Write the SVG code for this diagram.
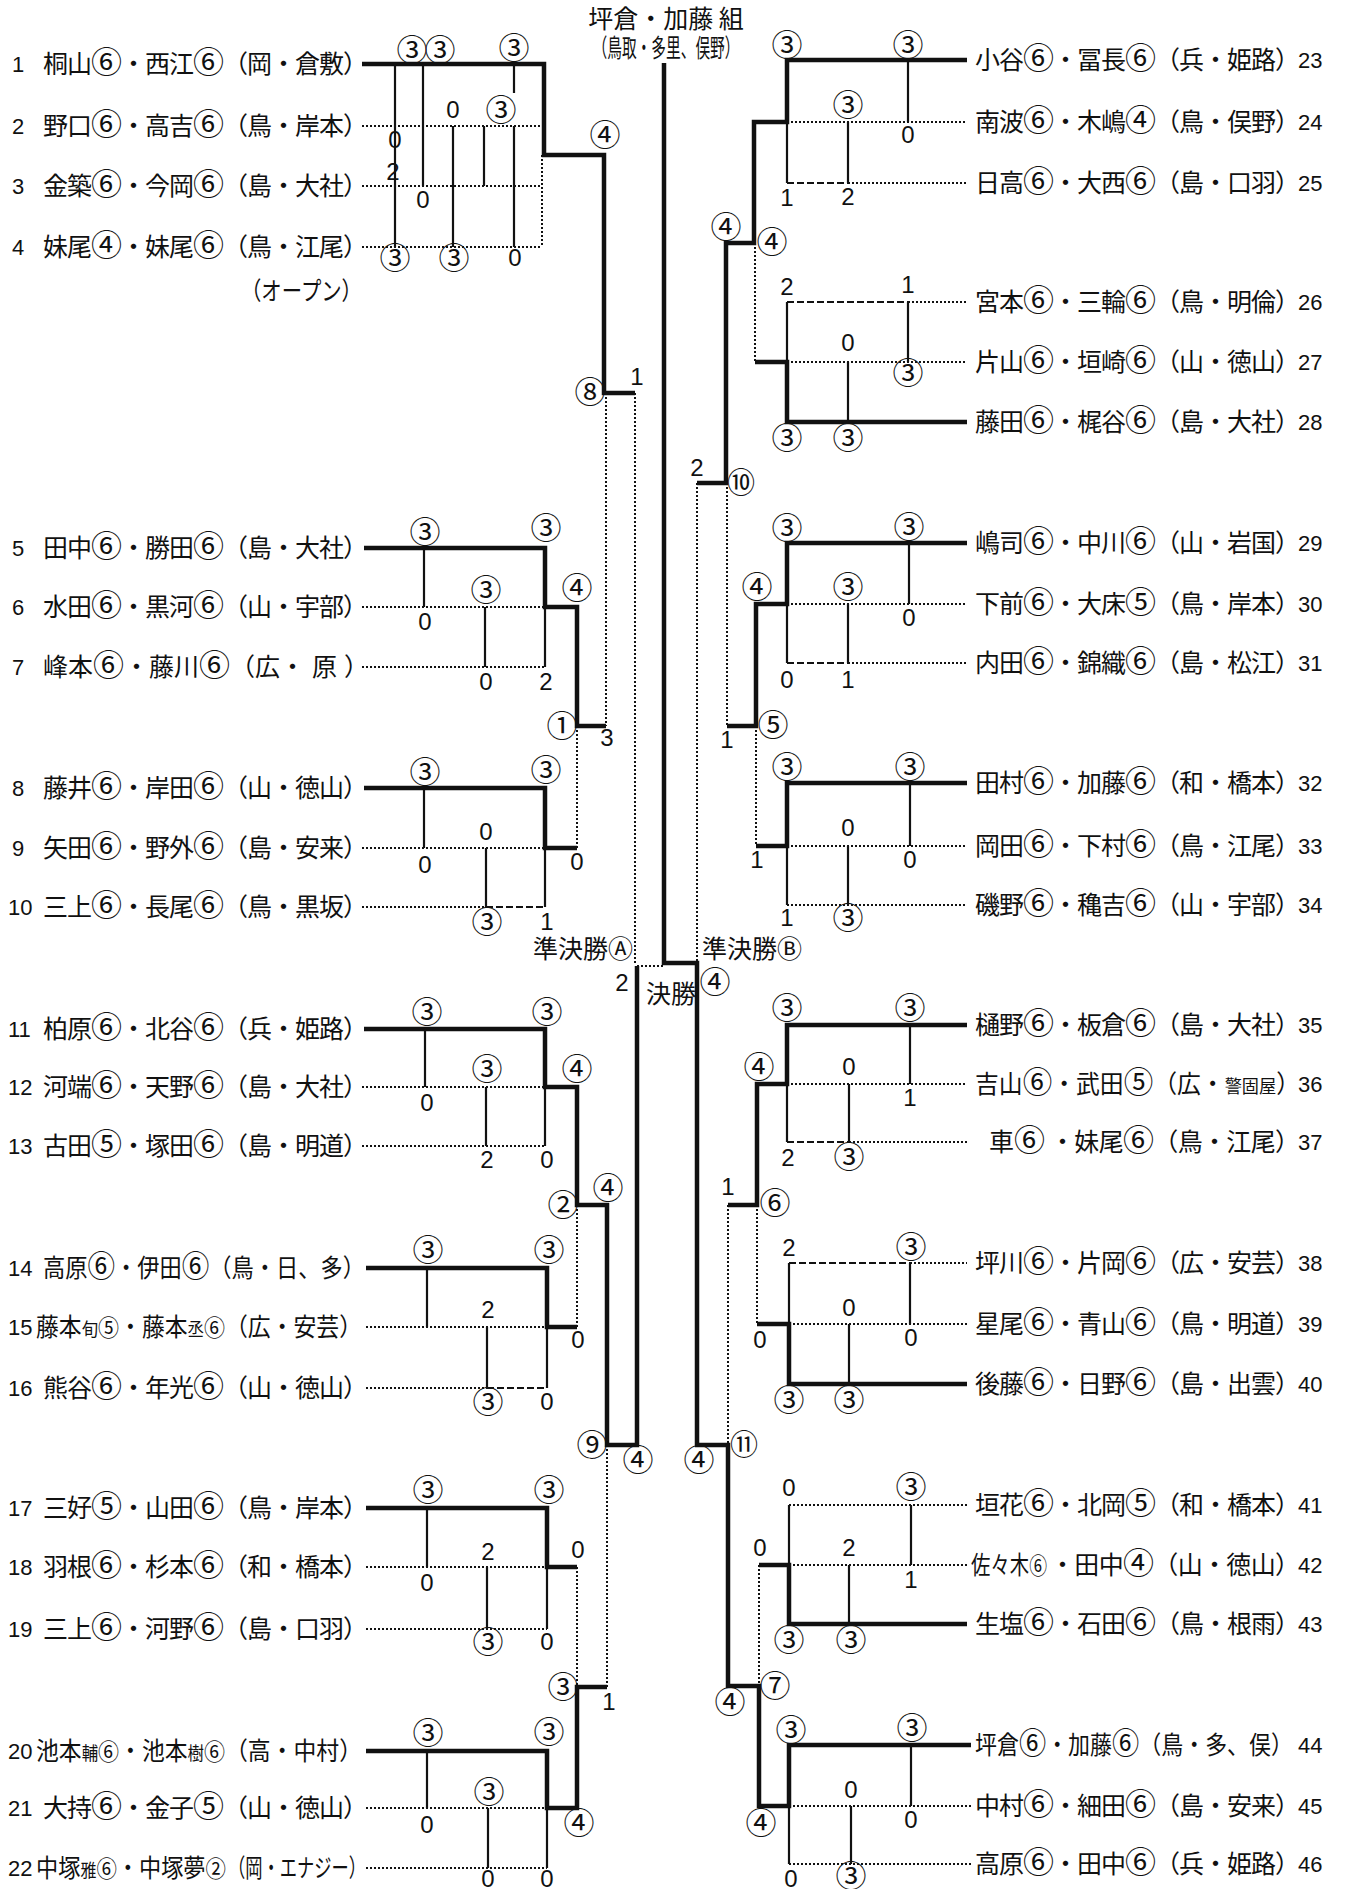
<svg xmlns="http://www.w3.org/2000/svg" width="1347" height="1889" viewBox="0 0 1347 1889">
<style>
.t{stroke:#111;stroke-width:4.5;fill:none;stroke-linejoin:miter}
.m{stroke:#111;stroke-width:2.2;fill:none}
.d{stroke:#111;stroke-width:2;fill:none;stroke-dasharray:2 2}
.ds{stroke:#111;stroke-width:2;fill:none;stroke-dasharray:7 3}
.nm{font-family:"Noto Sans CJK JP",sans-serif;font-size:25px;fill:#111}
.k{font-size:31px}
.ks{font-size:23px}
.sm{font-size:18px}
.no{font-family:"Liberation Sans",sans-serif;font-size:22px;fill:#111}
.s{font-family:"Liberation Sans",sans-serif;font-size:24px;fill:#111;text-anchor:middle}
.c{font-family:"Noto Sans CJK JP",sans-serif;font-size:31px;fill:#111;text-anchor:middle}
.c2{font-family:"Noto Sans CJK JP",sans-serif;font-size:28px;fill:#111;text-anchor:middle}
</style>
<rect width="1347" height="1889" fill="#fff"/>
<g id="title">
<text class="nm" x="666" y="28" font-size="23" text-anchor="middle">坪倉・加藤 組</text>
<text class="nm" x="666" y="57" font-size="15" text-anchor="middle" textLength="147" lengthAdjust="spacingAndGlyphs">（鳥取・多里、俣野）</text>
</g>
<g id="connectors">
<path class="t" d="M362,64H544V155H604V393H635"/>
<path class="t" d="M364,548H545V607H577V726H606"/>
<path class="t" d="M364,788H545V848H577"/>
<path class="t" d="M364,1029H545V1087H577V1205H607V1445H637V966"/>
<path class="t" d="M366,1268H547V1327H577"/>
<path class="t" d="M366,1508H547V1567H577"/>
<path class="t" d="M366,1751H547V1808H577V1687H607"/>
<path class="t" d="M967,60H787V122H754V243H726V483H697"/>
<path class="t" d="M967,422H787V362H755"/>
<path class="t" d="M967,543H787V604H756V726H727"/>
<path class="t" d="M967,783H787V846H756"/>
<path class="t" d="M967,1025H787V1084H757V1205H728"/>
<path class="t" d="M967,1384H789V1324H757"/>
<path class="t" d="M967,1624H789V1565H759"/>
<path class="t" d="M971,1745H789V1806H759V1686H728V1445H697V963H664V63"/>
<path class="m" stroke-width="3" d="M395,64V247"/>
<path class="m" d="M423,64V186M453,126V247M484,126V186M514,64V93M514,126V247"/>
<path class="m" d="M424,548V607M485,607V667M545,607V667M424,788V848M486,848V907M545,848V907M425,1029V1087M486,1087V1146M545,1087V1146M427,1268V1327M487,1327V1388M547,1327V1388M427,1508V1567M487,1567V1629M547,1567V1629M427,1751V1808M488,1808V1868M547,1808V1868"/>
<path class="m" d="M787,122V183M908,60V122M848,122V183M787,302V362M908,302V362M848,362V422M787,604V663M909,543V604M848,604V663M787,846V905M910,783V846M848,846V905M787,1084V1142M910,1025V1084M849,1084V1142M789,1263V1324M910,1263V1324M849,1324V1384M789,1505V1565M911,1505V1565M849,1565V1624M789,1806V1864M911,1745V1806M851,1806V1864"/>
<path class="d" d="M362,126H542M362,186H542M362,247H542M542,155V247M362,607H545M362,667H545M362,848H545M362,907H486M362,1087H545M362,1146H545M366,1327H547M366,1388H487M366,1567H547M366,1629H547M366,1808H547M366,1868H547"/>
<path class="ds" d="M486,907H545M487,1388H547"/>
<path class="d" d="M606,393V726M635,393V963M577,726V848M577,1205V1327M607,1445V1687M577,1567V1687M637,966H664"/>
<path class="d" d="M787,122H967M848,183H967M908,302H967M787,362H967M787,604H967M848,663H967M787,846H967M787,905H967M787,1084H967M849,1142H967M910,1263H967M789,1324H967M789,1505H967M789,1565H967M789,1806H971M789,1864H971"/>
<path class="ds" d="M787,183H848M787,302H908M787,663H848M787,1142H849M789,1263H910"/>
<path class="d" d="M755,243V362M727,483V726M756,726V846M697,483V963M728,1205V1445M757,1205V1324M759,1565V1686"/>
</g>
<g id="scores">
<text class="c" x="412" y="61">③</text><text class="c" x="440" y="61">③</text><text class="c" x="514" y="59">③</text>
<text class="s" x="453" y="118">0</text><text class="c" x="501" y="121">③</text>
<text class="s" x="395" y="148">0</text><text class="s" x="393" y="180">2</text><text class="s" x="423" y="208">0</text>
<text class="c" x="395" y="269">③</text><text class="c" x="454" y="269">③</text><text class="s" x="515" y="266">0</text>
<text class="c" x="605" y="146">④</text><text class="c" x="590" y="403">⑧</text><text class="s" x="637" y="385">1</text>
<text class="c" x="562" y="737">①</text><text class="s" x="607" y="746">3</text>
<text class="c" x="577" y="599">④</text><text class="s" x="577" y="870">0</text>
<text class="c" x="425" y="543">③</text><text class="s" x="425" y="630">0</text><text class="c" x="486" y="601">③</text><text class="s" x="486" y="690">0</text><text class="c" x="546" y="539">③</text><text class="s" x="546" y="690">2</text>
<text class="c" x="425" y="783">③</text><text class="s" x="425" y="873">0</text><text class="s" x="486" y="840">0</text><text class="c" x="487" y="933">③</text><text class="c" x="546" y="781">③</text><text class="s" x="547" y="930">1</text>
<text class="c" x="427" y="1023">③</text><text class="s" x="427" y="1111">0</text><text class="c" x="487" y="1080">③</text><text class="s" x="487" y="1168">2</text><text class="c" x="547" y="1023">③</text><text class="s" x="547" y="1168">0</text><text class="c" x="577" y="1080">④</text>
<text class="c" x="563" y="1216">②</text><text class="c" x="608" y="1199">④</text>
<text class="c" x="428" y="1261">③</text><text class="c" x="549" y="1261">③</text><text class="s" x="488" y="1318">2</text><text class="c" x="488" y="1413">③</text><text class="s" x="547" y="1410">0</text><text class="s" x="578" y="1348">0</text>
<text class="c" x="592" y="1456">⑨</text><text class="c" x="638" y="1471">④</text>
<text class="c" x="428" y="1501">③</text><text class="c" x="549" y="1501">③</text><text class="s" x="488" y="1560">2</text><text class="s" x="427" y="1591">0</text><text class="c" x="488" y="1653">③</text><text class="s" x="547" y="1650">0</text><text class="s" x="578" y="1558">0</text>
<text class="c" x="563" y="1698">③</text><text class="s" x="609" y="1710">1</text>
<text class="c" x="428" y="1744">③</text><text class="c" x="549" y="1743">③</text><text class="c" x="489" y="1803">③</text><text class="s" x="427" y="1833">0</text><text class="s" x="488" y="1887">0</text><text class="s" x="547" y="1887">0</text><text class="c" x="579" y="1834">④</text>
<text class="s" x="622" y="991">2</text><text class="c" x="715" y="993">④</text>
<text class="c" x="787" y="56">③</text><text class="c" x="908" y="56">③</text><text class="c" x="848" y="116">③</text><text class="s" x="908" y="143">0</text><text class="s" x="787" y="206">1</text><text class="s" x="848" y="205">2</text>
<text class="c" x="726" y="238">④</text><text class="c" x="772" y="253">④</text>
<text class="s" x="787" y="295">2</text><text class="s" x="908" y="293">1</text><text class="c" x="908" y="384">③</text><text class="s" x="848" y="351">0</text><text class="c" x="787" y="449">③</text><text class="c" x="848" y="449">③</text>
<text class="s" x="697" y="476">2</text><text class="c2" x="741" y="493">⑩</text>
<text class="c" x="787" y="539">③</text><text class="c" x="909" y="538">③</text><text class="s" x="909" y="626">0</text><text class="c" x="848" y="598">③</text><text class="s" x="787" y="688">0</text><text class="s" x="848" y="688">1</text><text class="c" x="757" y="598">④</text>
<text class="c" x="773" y="736">⑤</text><text class="s" x="727" y="748">1</text>
<text class="c" x="787" y="778">③</text><text class="c" x="910" y="778">③</text><text class="s" x="910" y="868">0</text><text class="s" x="848" y="836">0</text><text class="s" x="787" y="926">1</text><text class="c" x="848" y="929">③</text><text class="s" x="757" y="868">1</text>
<text class="c" x="787" y="1019">③</text><text class="c" x="910" y="1019">③</text><text class="s" x="910" y="1106">1</text><text class="s" x="849" y="1075">0</text><text class="s" x="788" y="1166">2</text><text class="c" x="849" y="1168">③</text><text class="c" x="759" y="1078">④</text>
<text class="s" x="728" y="1195">1</text><text class="c" x="775" y="1214">⑥</text>
<text class="s" x="789" y="1256">2</text><text class="c" x="911" y="1258">③</text><text class="s" x="911" y="1346">0</text><text class="s" x="849" y="1316">0</text><text class="c" x="789" y="1411">③</text><text class="c" x="849" y="1411">③</text><text class="s" x="760" y="1348">0</text>
<text class="c" x="699" y="1471">④</text><text class="c2" x="744" y="1455">⑪</text>
<text class="s" x="789" y="1496">0</text><text class="c" x="911" y="1498">③</text><text class="s" x="911" y="1588">1</text><text class="s" x="849" y="1556">2</text><text class="c" x="789" y="1651">③</text><text class="c" x="851" y="1651">③</text><text class="s" x="760" y="1556">0</text>
<text class="c" x="730" y="1713">④</text><text class="c" x="775" y="1697">⑦</text>
<text class="c" x="791" y="1741">③</text><text class="c" x="912" y="1739">③</text><text class="s" x="911" y="1828">0</text><text class="s" x="851" y="1798">0</text><text class="s" x="791" y="1887">0</text><text class="c" x="851" y="1887">③</text><text class="c" x="761" y="1834">④</text>
</g>
<g id="round-labels">
<text class="nm" x="633" y="958" font-size="15.5" text-anchor="end">準決勝Ⓐ</text>
<text class="nm" x="702" y="958" font-size="15.5">準決勝Ⓑ</text>
<text class="nm" x="646" y="1003" font-size="22">決勝</text>
</g>
<g id="team-1"><text class="no" x="18" y="72" text-anchor="middle">1</text><text class="nm" x="43" y="73" textLength="325" lengthAdjust="spacing">桐山<tspan class="k">⑥</tspan>・西江<tspan class="k">⑥</tspan>（岡・倉敷）</text></g>
<g id="team-2"><text class="no" x="18" y="134" text-anchor="middle">2</text><text class="nm" x="43" y="135" textLength="325" lengthAdjust="spacing">野口<tspan class="k">⑥</tspan>・高吉<tspan class="k">⑥</tspan>（鳥・岸本）</text></g>
<g id="team-3"><text class="no" x="18" y="194" text-anchor="middle">3</text><text class="nm" x="43" y="195" textLength="325" lengthAdjust="spacing">金築<tspan class="k">⑥</tspan>・今岡<tspan class="k">⑥</tspan>（島・大社）</text></g>
<g id="team-4"><text class="no" x="18" y="255" text-anchor="middle">4</text><text class="nm" x="43" y="256" textLength="325" lengthAdjust="spacing">妹尾<tspan class="k">④</tspan>・妹尾<tspan class="k">⑥</tspan>（鳥・江尾）</text></g>
<g id="open"><text class="nm" x="241" y="300" font-size="22" textLength="121" lengthAdjust="spacingAndGlyphs">（オープン）</text></g>
<g id="team-5"><text class="no" x="18" y="556" text-anchor="middle">5</text><text class="nm" x="43" y="557" textLength="325" lengthAdjust="spacing">田中<tspan class="k">⑥</tspan>・勝田<tspan class="k">⑥</tspan>（島・大社）</text></g>
<g id="team-6"><text class="no" x="18" y="615" text-anchor="middle">6</text><text class="nm" x="43" y="616" textLength="325" lengthAdjust="spacing">水田<tspan class="k">⑥</tspan>・黒河<tspan class="k">⑥</tspan>（山・宇部）</text></g>
<g id="team-7"><text class="no" x="18" y="675" text-anchor="middle">7</text><text class="nm" x="43" y="676">峰本<tspan class="k">⑥</tspan>・藤川<tspan class="k">⑥</tspan>（広・<tspan dx="7">原</tspan><tspan dx="7">）</tspan></text></g>
<g id="team-8"><text class="no" x="18" y="796" text-anchor="middle">8</text><text class="nm" x="43" y="797" textLength="325" lengthAdjust="spacing">藤井<tspan class="k">⑥</tspan>・岸田<tspan class="k">⑥</tspan>（山・徳山）</text></g>
<g id="team-9"><text class="no" x="18" y="856" text-anchor="middle">9</text><text class="nm" x="43" y="857" textLength="325" lengthAdjust="spacing">矢田<tspan class="k">⑥</tspan>・野外<tspan class="k">⑥</tspan>（島・安来）</text></g>
<g id="team-10"><text class="no" x="8" y="915">10</text><text class="nm" x="43" y="916" textLength="325" lengthAdjust="spacing">三上<tspan class="k">⑥</tspan>・長尾<tspan class="k">⑥</tspan>（鳥・黒坂）</text></g>
<g id="team-11"><text class="no" x="8" y="1037">11</text><text class="nm" x="43" y="1038" textLength="325" lengthAdjust="spacing">柏原<tspan class="k">⑥</tspan>・北谷<tspan class="k">⑥</tspan>（兵・姫路）</text></g>
<g id="team-12"><text class="no" x="8" y="1095">12</text><text class="nm" x="43" y="1096" textLength="325" lengthAdjust="spacing">河端<tspan class="k">⑥</tspan>・天野<tspan class="k">⑥</tspan>（島・大社）</text></g>
<g id="team-13"><text class="no" x="8" y="1154">13</text><text class="nm" x="43" y="1155" textLength="325" lengthAdjust="spacing">古田<tspan class="k">⑤</tspan>・塚田<tspan class="k">⑥</tspan>（島・明道）</text></g>
<g id="team-14"><text class="no" x="8" y="1276">14</text><text class="nm" x="43" y="1277" textLength="322" lengthAdjust="spacingAndGlyphs">高原<tspan class="k">⑥</tspan>・伊田<tspan class="k">⑥</tspan>（鳥・日、多）</text></g>
<g id="team-15"><text class="no" x="8" y="1335">15</text><text class="nm" x="36" y="1336" textLength="326" lengthAdjust="spacingAndGlyphs">藤本<tspan class="sm">旬</tspan><tspan class="ks">⑤</tspan>・藤本<tspan class="sm">丞</tspan><tspan class="ks">⑥</tspan>（広・安芸）</text></g>
<g id="team-16"><text class="no" x="8" y="1396">16</text><text class="nm" x="43" y="1397" textLength="325" lengthAdjust="spacing">熊谷<tspan class="k">⑥</tspan>・年光<tspan class="k">⑥</tspan>（山・徳山）</text></g>
<g id="team-17"><text class="no" x="8" y="1516">17</text><text class="nm" x="43" y="1517" textLength="325" lengthAdjust="spacing">三好<tspan class="k">⑤</tspan>・山田<tspan class="k">⑥</tspan>（鳥・岸本）</text></g>
<g id="team-18"><text class="no" x="8" y="1575">18</text><text class="nm" x="43" y="1576" textLength="325" lengthAdjust="spacing">羽根<tspan class="k">⑥</tspan>・杉本<tspan class="k">⑥</tspan>（和・橋本）</text></g>
<g id="team-19"><text class="no" x="8" y="1637">19</text><text class="nm" x="43" y="1638" textLength="325" lengthAdjust="spacing">三上<tspan class="k">⑥</tspan>・河野<tspan class="k">⑥</tspan>（島・口羽）</text></g>
<g id="team-20"><text class="no" x="8" y="1759">20</text><text class="nm" x="36" y="1760" textLength="326" lengthAdjust="spacingAndGlyphs">池本<tspan class="sm">輔</tspan><tspan class="ks">⑥</tspan>・池本<tspan class="sm">樹</tspan><tspan class="ks">⑥</tspan>（高・中村）</text></g>
<g id="team-21"><text class="no" x="8" y="1816">21</text><text class="nm" x="43" y="1817" textLength="325" lengthAdjust="spacing">大持<tspan class="k">⑥</tspan>・金子<tspan class="k">⑤</tspan>（山・徳山）</text></g>
<g id="team-22"><text class="no" x="8" y="1876">22</text><text class="nm" x="36" y="1877" textLength="190" lengthAdjust="spacingAndGlyphs">中塚<tspan class="sm">雅</tspan><tspan class="ks">⑥</tspan>・中塚夢<tspan class="ks">②</tspan></text><text class="nm" x="228" y="1877" textLength="138" lengthAdjust="spacingAndGlyphs">（岡・エナジー）</text></g>
<g id="team-23"><text class="nm" x="975" y="69" textLength="325" lengthAdjust="spacing">小谷<tspan class="k">⑥</tspan>・冨長<tspan class="k">⑥</tspan>（兵・姫路）</text><text class="no" x="1298" y="68">23</text></g>
<g id="team-24"><text class="nm" x="975" y="131" textLength="325" lengthAdjust="spacing">南波<tspan class="k">⑥</tspan>・木嶋<tspan class="k">④</tspan>（鳥・俣野）</text><text class="no" x="1298" y="130">24</text></g>
<g id="team-25"><text class="nm" x="975" y="192" textLength="325" lengthAdjust="spacing">日高<tspan class="k">⑥</tspan>・大西<tspan class="k">⑥</tspan>（島・口羽）</text><text class="no" x="1298" y="191">25</text></g>
<g id="team-26"><text class="nm" x="975" y="311" textLength="325" lengthAdjust="spacing">宮本<tspan class="k">⑥</tspan>・三輪<tspan class="k">⑥</tspan>（鳥・明倫）</text><text class="no" x="1298" y="310">26</text></g>
<g id="team-27"><text class="nm" x="975" y="371" textLength="325" lengthAdjust="spacing">片山<tspan class="k">⑥</tspan>・垣崎<tspan class="k">⑥</tspan>（山・徳山）</text><text class="no" x="1298" y="370">27</text></g>
<g id="team-28"><text class="nm" x="975" y="431" textLength="325" lengthAdjust="spacing">藤田<tspan class="k">⑥</tspan>・梶谷<tspan class="k">⑥</tspan>（島・大社）</text><text class="no" x="1298" y="430">28</text></g>
<g id="team-29"><text class="nm" x="975" y="552" textLength="325" lengthAdjust="spacing">嶋司<tspan class="k">⑥</tspan>・中川<tspan class="k">⑥</tspan>（山・岩国）</text><text class="no" x="1298" y="551">29</text></g>
<g id="team-30"><text class="nm" x="975" y="613" textLength="325" lengthAdjust="spacing">下前<tspan class="k">⑥</tspan>・大床<tspan class="k">⑤</tspan>（鳥・岸本）</text><text class="no" x="1298" y="612">30</text></g>
<g id="team-31"><text class="nm" x="975" y="672" textLength="325" lengthAdjust="spacing">内田<tspan class="k">⑥</tspan>・錦織<tspan class="k">⑥</tspan>（島・松江）</text><text class="no" x="1298" y="671">31</text></g>
<g id="team-32"><text class="nm" x="975" y="792" textLength="325" lengthAdjust="spacing">田村<tspan class="k">⑥</tspan>・加藤<tspan class="k">⑥</tspan>（和・橋本）</text><text class="no" x="1298" y="791">32</text></g>
<g id="team-33"><text class="nm" x="975" y="855" textLength="325" lengthAdjust="spacing">岡田<tspan class="k">⑥</tspan>・下村<tspan class="k">⑥</tspan>（鳥・江尾）</text><text class="no" x="1298" y="854">33</text></g>
<g id="team-34"><text class="nm" x="975" y="914" textLength="325" lengthAdjust="spacing">磯野<tspan class="k">⑥</tspan>・穐吉<tspan class="k">⑥</tspan>（山・宇部）</text><text class="no" x="1298" y="913">34</text></g>
<g id="team-35"><text class="nm" x="975" y="1034" textLength="325" lengthAdjust="spacing">樋野<tspan class="k">⑥</tspan>・板倉<tspan class="k">⑥</tspan>（島・大社）</text><text class="no" x="1298" y="1033">35</text></g>
<g id="team-36"><text class="nm" x="975" y="1093" textLength="325" lengthAdjust="spacingAndGlyphs">吉山<tspan class="k">⑥</tspan>・武田<tspan class="k">⑤</tspan>（広・<tspan class="sm">警固屋</tspan>）</text><text class="no" x="1298" y="1092">36</text></g>
<g id="team-37"><text class="nm" x="989" y="1151">車<tspan class="k">⑥</tspan></text><text class="nm" x="1050" y="1151" textLength="250" lengthAdjust="spacing">・妹尾<tspan class="k">⑥</tspan>（鳥・江尾）</text><text class="no" x="1298" y="1150">37</text></g>
<g id="team-38"><text class="nm" x="975" y="1272" textLength="325" lengthAdjust="spacing">坪川<tspan class="k">⑥</tspan>・片岡<tspan class="k">⑥</tspan>（広・安芸）</text><text class="no" x="1298" y="1271">38</text></g>
<g id="team-39"><text class="nm" x="975" y="1333" textLength="325" lengthAdjust="spacing">星尾<tspan class="k">⑥</tspan>・青山<tspan class="k">⑥</tspan>（鳥・明道）</text><text class="no" x="1298" y="1332">39</text></g>
<g id="team-40"><text class="nm" x="975" y="1393" textLength="325" lengthAdjust="spacing">後藤<tspan class="k">⑥</tspan>・日野<tspan class="k">⑥</tspan>（島・出雲）</text><text class="no" x="1298" y="1392">40</text></g>
<g id="team-41"><text class="nm" x="975" y="1514" textLength="325" lengthAdjust="spacing">垣花<tspan class="k">⑥</tspan>・北岡<tspan class="k">⑤</tspan>（和・橋本）</text><text class="no" x="1298" y="1513">41</text></g>
<g id="team-42"><text class="nm" x="971" y="1574" font-size="21" textLength="76" lengthAdjust="spacingAndGlyphs">佐々木<tspan class="ks">⑥</tspan></text><text class="nm" x="1050" y="1574" textLength="250" lengthAdjust="spacing">・田中<tspan class="k">④</tspan>（山・徳山）</text><text class="no" x="1298" y="1573">42</text></g>
<g id="team-43"><text class="nm" x="975" y="1633" textLength="325" lengthAdjust="spacing">生塩<tspan class="k">⑥</tspan>・石田<tspan class="k">⑥</tspan>（鳥・根雨）</text><text class="no" x="1298" y="1632">43</text></g>
<g id="team-44"><text class="nm" x="975" y="1754" textLength="318" lengthAdjust="spacingAndGlyphs">坪倉<tspan class="k">⑥</tspan>・加藤<tspan class="k">⑥</tspan>（鳥・多、俣）</text><text class="no" x="1298" y="1753">44</text></g>
<g id="team-45"><text class="nm" x="975" y="1815" textLength="325" lengthAdjust="spacing">中村<tspan class="k">⑥</tspan>・細田<tspan class="k">⑥</tspan>（島・安来）</text><text class="no" x="1298" y="1814">45</text></g>
<g id="team-46"><text class="nm" x="975" y="1873" textLength="325" lengthAdjust="spacing">高原<tspan class="k">⑥</tspan>・田中<tspan class="k">⑥</tspan>（兵・姫路）</text><text class="no" x="1298" y="1872">46</text></g>
</svg>
